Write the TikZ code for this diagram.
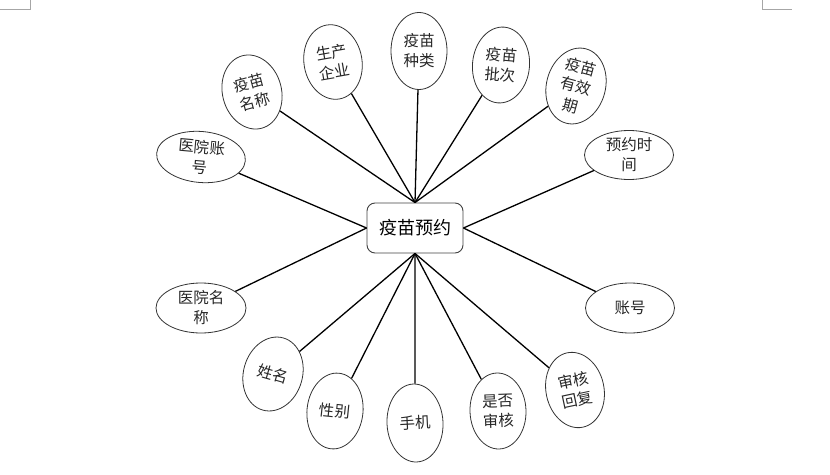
\documentclass[tikz,border=0pt]{standalone}
\usepackage{fontspec}
\setmainfont{Noto Sans CJK SC}
\usetikzlibrary{shapes.geometric}
\begin{document}
\begin{tikzpicture}[x=1pt,y=-1pt,
  attr/.style={ellipse,draw=black!80,line width=0.8pt,inner sep=0pt,align=center,
    font=\fontsize{15.5}{20}\selectfont,text=black!85},
  conn/.style={draw=black,line width=1.3pt},
  hub/.style={rectangle,rounded corners=8pt,draw=black!75,line width=0.9pt,
    minimum width=96pt,minimum height=50pt,inner sep=0pt,font=\fontsize{18}{20}\selectfont},
  cropmark/.style={draw=black!35,line width=0.6pt}]
\useasboundingbox (0,0) rectangle (830,474);
\draw[cropmark] (0,9.5) -- (30.5,9.5) -- (30.5,0);
\draw[cropmark] (762,0) -- (762,9.5) -- (792,9.5);

\node[hub] (hub) at (415,228) {疫苗预约};

\node[attr,minimum width=59pt,minimum height=75pt,rotate=15] (n1) at (252,92) {疫苗\\名称};
\node[attr,minimum width=58pt,minimum height=75pt,rotate=10] (n2) at (333,62) {生产\\企业};
\node[attr,minimum width=56pt,minimum height=77pt] (n3) at (419,51) {疫苗\\种类};
\node[attr,minimum width=57pt,minimum height=76pt,rotate=-5] (n4) at (501,65) {疫苗\\批次};
\node[attr,minimum width=59pt,minimum height=74pt,rotate=-15] (n5) at (576,86) {疫苗\\有效\\期};
\node[attr,minimum width=89pt,minimum height=49pt] (n6) at (629,155) {预约时\\间};
\node[attr,minimum width=89pt,minimum height=51pt,rotate=-5] (n7) at (201,157) {医院账\\号};
\node[attr,minimum width=90pt,minimum height=50pt] (n8) at (201,308) {医院名\\称};
\node[attr,minimum width=89pt,minimum height=50pt] (n9) at (630,308) {账号};
\node[attr,minimum width=59pt,minimum height=75pt,rotate=-16] (n10) at (273,374) {姓名};
\node[attr,minimum width=56pt,minimum height=76pt,rotate=-6] (n11) at (335,411) {性别};
\node[attr,minimum width=56pt,minimum height=78pt,rotate=3] (n12) at (415,423) {手机};
\node[attr,minimum width=56pt,minimum height=76pt,rotate=2] (n13) at (498,411) {是否\\审核};
\node[attr,minimum width=58pt,minimum height=76pt,rotate=12] (n14) at (575,390) {审核\\回复};

\foreach \n in {n1,n2,n3,n4,n5} \draw[conn] (hub.north) -- (\n);
\foreach \n in {n7,n8} \draw[conn] (hub.west) -- (\n);
\foreach \n in {n6,n9} \draw[conn] (hub.east) -- (\n);
\foreach \n in {n10,n11,n12,n13,n14} \draw[conn] (hub.south) -- (\n);
\end{tikzpicture}
\end{document}
